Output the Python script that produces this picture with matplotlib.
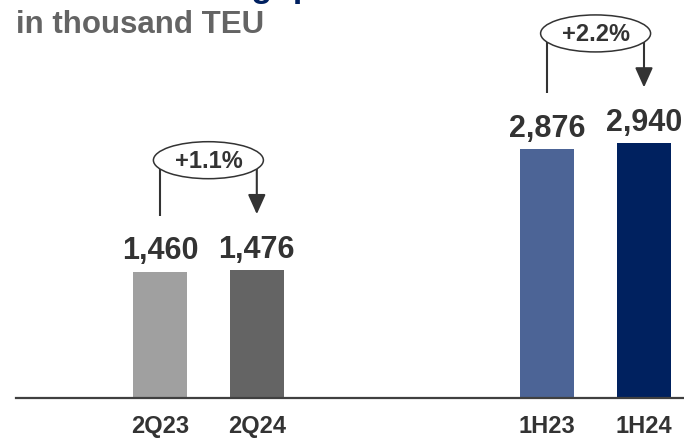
import matplotlib
matplotlib.use('Agg')
import matplotlib.pyplot as plt
from matplotlib.patches import Ellipse

plt.rcParams['font.family'] = ['Liberation Sans', 'DejaVu Sans']

# 데이터
periods = ['2Q23', '2Q24', '1H23', '1H24']
volumes = [1460, 1476, 2876, 2940]
positions = [0, 1, 4, 5]
bar_colors = ['#a0a0a0', '#646464', '#4c6496', '#00215f']
pairs = [(0, 1), (2, 3)]

TEXT = '#333333'
W, H = 684, 439
AX_H_PX = 399
YMAX = 4608
PX = YMAX / AX_H_PX          # 데이터 단위 / 픽셀 (세로)
UX = 1 / 96.8                # 데이터 단위 / 픽셀 (가로)

fig = plt.figure(figsize=(W / 100, H / 100), dpi=100)
ax = fig.add_axes([16 / W, 40 / H, 668 / W, AX_H_PX / H])

ax.bar(positions, volumes, width=54 * UX, color=bar_colors, zorder=2)

ax.set_xlim(-144 * UX, 524 * UX)
ax.set_ylim(0, YMAX)

for s in ['top', 'right', 'left']:
    ax.spines[s].set_visible(False)
ax.spines['bottom'].set_color('#404040')
ax.spines['bottom'].set_linewidth(1.6)
ax.set_yticks([])
ax.set_xticks(positions, periods)
ax.tick_params(axis='x', length=0, pad=24.5, labelsize=17, labelcolor=TEXT)
for lab in ax.get_xticklabels():
    lab.set_fontweight('bold')
    lab.set_verticalalignment('baseline')

# 막대 위 값
for x, v in zip(positions, volumes):
    ax.annotate(f'{v:,}', xy=(x, v), xytext=(0, 9.5), textcoords='offset points',
                ha='center', va='baseline', fontsize=22, fontweight='bold', color=TEXT)

# 증감률 표시 (타원 + 화살표)
for i, j in pairs:
    xi, xj = positions[i], positions[j]
    top = max(volumes[i], volumes[j])
    cx = (xi + xj) / 2
    cy = top + 110 * PX
    ax.plot([xi, xi], [volumes[i] + 56 * PX, cy], color=TEXT, lw=1.5, zorder=3,
            solid_capstyle='butt')
    ax.annotate('', xy=(xj, volumes[j] + 56 * PX), xytext=(xj, cy),
                arrowprops=dict(arrowstyle='-|>,head_length=0.6,head_width=0.27',
                                mutation_scale=20, lw=1.5, color=TEXT,
                                shrinkA=0, shrinkB=0), zorder=4)
    ax.add_patch(Ellipse((cx, cy), 110 * UX, 37 * PX, facecolor='white',
                         edgecolor=TEXT, lw=1.1, zorder=5))
    growth = (volumes[j] / volumes[i] - 1) * 100
    ax.text(cx, cy, f'+{growth:.1f}%', ha='center', va='center', fontsize=17,
            fontweight='bold', color=TEXT, zorder=6)

# 제목
fig.text(16 / W, 1 + 3 / H, 'Terminal throughput', ha='left', va='baseline',
         fontsize=24.5, fontweight='bold', color='#002060')
fig.text(16 / W, (H - 33) / H, 'in thousand TEU', ha='left', va='baseline',
         fontsize=22.5, fontweight='bold', color='#646464')

fig.savefig('out.png', dpi=100)
